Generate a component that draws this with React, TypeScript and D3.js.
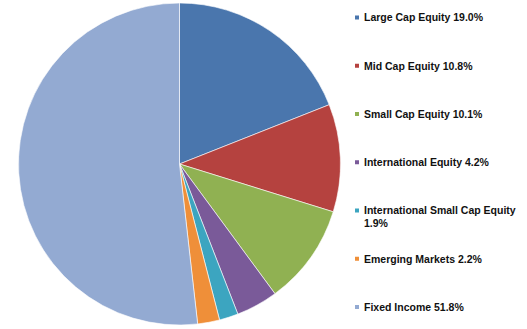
import React from "react";
import * as d3 from "d3";

const categories = [
  "Large Cap Equity",
  "Mid Cap Equity",
  "Small Cap Equity",
  "International Equity",
  "International Small Cap Equity",
  "Emerging Markets",
  "Fixed Income",
];
const values = [19.0, 10.8, 10.1, 4.2, 1.9, 2.2, 51.8];
const legendLabels = [
  ["Large Cap Equity 19.0%"],
  ["Mid Cap Equity 10.8%"],
  ["Small Cap Equity 10.1%"],
  ["International Equity 4.2%"],
  ["International Small Cap Equity", "1.9%"],
  ["Emerging Markets 2.2%"],
  ["Fixed Income 51.8%"],
];
const colors = ["#4a76ad", "#b5423f", "#90b152", "#7a5a99", "#3ca5c0", "#ef8f39", "#93aad2"];

export default function App() {
  const W = 527, H = 329;
  const cx = 179.5, cy = 164, r = 161;
  const pie = d3.pie<number>().sort(null).value((d) => d)(values);
  const arc = d3.arc<d3.PieArcDatum<number>>().innerRadius(0).outerRadius(r);
  const legendY = d3.scalePoint<string>().domain(categories).range([17.5, 307]);
  return (
    <svg width={W} height={H} style={{ position: "absolute", left: 0, top: 0, background: "#fff" }}>
      <rect width={W} height={H} fill="#fff" />
      <g transform={`translate(${cx},${cy})`}>
        {pie.map((p, i) => (
          <path key={i} d={arc(p) || ""} fill={colors[i]} stroke="#fff" strokeWidth={0.6} />
        ))}
      </g>
      <g fontFamily="Liberation Sans, Arial, sans-serif" fontSize={10.5} fontWeight="bold" fill="#111">
        {categories.map((c, i) => {
          const y = legendY(c) as number;
          return (
            <g key={c}>
              <rect x={355} y={y - 2} width={4} height={4} fill={colors[i]} />
              {legendLabels[i].map((t, j) => (
                <text key={j} x={364} y={y + 3.8 + j * 12.5}>
                  {t}
                </text>
              ))}
            </g>
          );
        })}
      </g>
    </svg>
  );
}
